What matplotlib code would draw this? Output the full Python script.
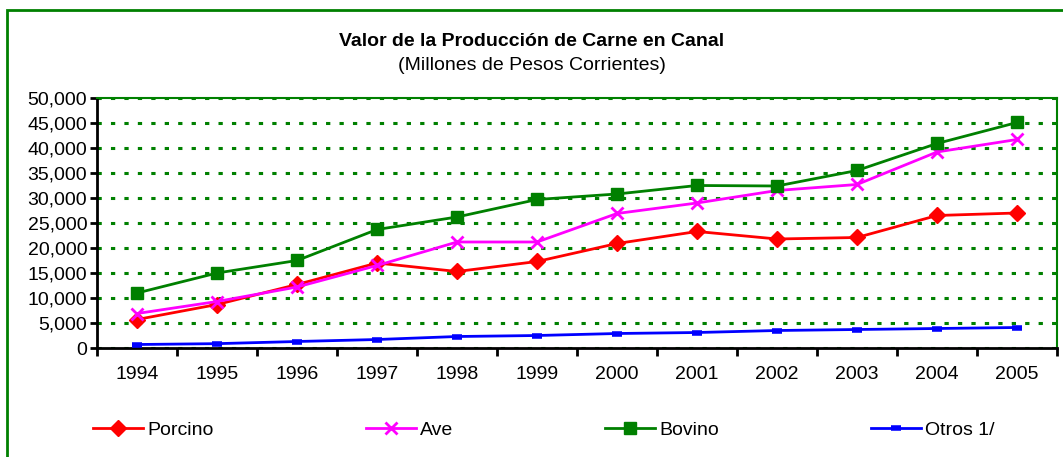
import matplotlib
matplotlib.use('Agg')
import matplotlib.pyplot as plt
from matplotlib.patches import Rectangle
from matplotlib.ticker import FuncFormatter, MultipleLocator, FixedLocator

plt.rcParams['font.family'] = ['Liberation Sans', 'DejaVu Sans']

years = ['1994', '1995', '1996', '1997', '1998', '1999',
         '2000', '2001', '2002', '2003', '2004', '2005']
porcino = [5700, 8700, 12700, 17000, 15300, 17300, 20900, 23300, 21800, 22100, 26500, 27000]
ave = [6900, 9300, 12200, 16500, 21200, 21200, 26900, 29000, 31500, 32700, 39200, 41700]
bovino = [11000, 15000, 17500, 23700, 26200, 29700, 30800, 32500, 32400, 35500, 40900, 45100]
otros = [700, 870, 1300, 1700, 2300, 2500, 2900, 3100, 3500, 3700, 3900, 4100]

GREEN = '#008000'

fig = plt.figure(figsize=(10.63, 4.57), dpi=100)
ax = fig.add_axes([0.0913, 0.2385, 0.9031, 0.5471])

x = list(range(len(years)))
series = [
    ('Porcino', porcino, 'red', dict(marker='D', markersize=8)),
    ('Ave', ave, 'magenta', dict(marker='x', markersize=8, markeredgewidth=2)),
    ('Bovino', bovino, GREEN, dict(marker='s', markersize=8)),
    ('Otros 1/', otros, 'blue', dict(marker='_', markersize=7, markeredgewidth=4)),
]
handles = []
for name, vals, col, mk in series:
    h, = ax.plot(x, vals, color=col, lw=2, zorder=3, **mk)
    handles.append(h)

ax.set_xlim(-0.5, len(years) - 0.5)
ax.set_ylim(0, 50000)
ax.yaxis.set_major_locator(MultipleLocator(5000))
ax.yaxis.set_major_formatter(FuncFormatter(lambda v, p: f'{int(v):,}'))
ax.grid(axis='y', color=GREEN, linestyle=(0, (1.4, 3)), linewidth=2.2)
ax.set_axisbelow(True)

ax.set_xticks(x)
ax.set_xticklabels(years)
ax.xaxis.set_minor_locator(FixedLocator([i - 0.5 for i in range(len(years) + 1)]))
ax.tick_params(axis='x', which='major', length=0, pad=13, labelsize=14)
ax.tick_params(axis='x', which='minor', length=6, width=2, direction='out')
ax.tick_params(axis='y', length=5, width=2, direction='out', labelsize=14, pad=2)

for s in ['left', 'bottom']:
    ax.spines[s].set_linewidth(2)
    ax.spines[s].set_color('black')
for s in ['top', 'right']:
    ax.spines[s].set_linewidth(1.5)
    ax.spines[s].set_color(GREEN)

fig.text(0.5, 0.91, 'Valor de la Producción de Carne en Canal',
         ha='center', va='center', fontsize=14, fontweight='bold')
fig.text(0.5, 0.857, '(Millones de Pesos Corrientes)',
         ha='center', va='center', fontsize=14)

# outer frame
fig.patches.append(Rectangle((7 / 1063, -0.1), 1.2, 1 - 10 / 457 + 0.1,
                             transform=fig.transFigure, fill=False,
                             edgecolor=GREEN, linewidth=2))

# one legend entry per column, placed like the original
leg_x = [85, 358, 597, 863]
for h, (name, *_), lx in zip(handles, series, leg_x):
    fig.legend([h], [name], loc='center left',
               bbox_to_anchor=(lx / 1063, 1 - 430 / 457),
               frameon=False, fontsize=14, handlelength=2.6,
               handletextpad=0.2, borderaxespad=0)

fig.savefig('out.png', dpi=100)
